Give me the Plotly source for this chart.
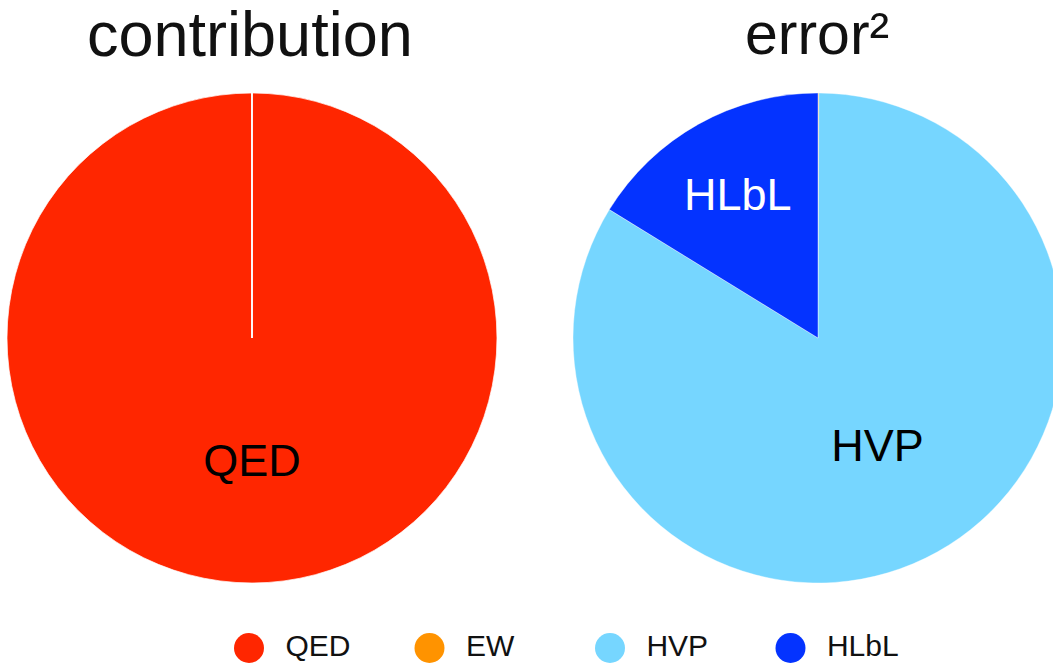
import plotly.graph_objects as go

# ---- data ----
labels = ["QED", "EW", "HVP", "HLbL"]
colors = ["#FF2600", "#FF9300", "#76D6FF", "#0433FF"]
contribution = [116584719, 154, 6845, 92]     # x 10^-11
error_sq = [0.01, 1.0, 1600, 310]             # (x 10^-11)^2
left_text = ["QED", "", "", ""]
right_text = ["", "", "HVP", "HLbL"]
left_text_colors = ["black", "black", "black", "white"]
right_text_colors = ["black", "black", "black", "white"]
titles = ["contribution", "error²"]
title_sizes = [63, 59]

FONT = "Liberation Sans, Arial, Helvetica, sans-serif"
W, H = 1063, 664   # right pie runs slightly past the 1053px window, as in the reference


def px(X):
    return X / W


def py(Y):
    return 1 - Y / H


fig = go.Figure()

fig.add_trace(go.Pie(
    labels=labels, values=contribution, text=left_text,
    textinfo="text", textposition="inside", insidetextorientation="horizontal",
    textfont=dict(size=45, family=FONT, color=left_text_colors),
    marker=dict(colors=colors, line=dict(color="white", width=0.7)),
    sort=False, direction="clockwise", rotation=0,
    domain=dict(x=[px(7), px(497)], y=[py(583), py(93)]),
    showlegend=False, hoverinfo="skip",
))

fig.add_trace(go.Pie(
    labels=labels, values=error_sq, text=right_text,
    textinfo="text", textposition="inside", insidetextorientation="horizontal",
    textfont=dict(size=45, family=FONT, color=right_text_colors),
    marker=dict(colors=colors, line=dict(color="white", width=0.4)),
    sort=False, direction="clockwise", rotation=0,
    domain=dict(x=[px(573), px(1063)], y=[py(583), py(93)]),
    showlegend=False, hoverinfo="skip",
))

# legend drawn as a row of markers with labels
fig.add_trace(go.Scatter(
    x=list(range(len(labels))), y=[0] * len(labels),
    mode="markers+text", text=["\u00a0\u00a0" + l for l in labels],
    textposition="middle right",
    textfont=dict(size=30, family=FONT, color="#111111"),
    marker=dict(size=30, color=colors, symbol="circle"),
    showlegend=False, hoverinfo="skip", cliponaxis=False,
))

step = 180.5
a = -249 / step
fig.update_xaxes(range=[a, a + W / step], domain=[0, 1], visible=False, fixedrange=True)
fig.update_yaxes(range=[-1, 1], domain=[0, 32 / H], visible=False, fixedrange=True)

for t, X, s in zip(titles, [250, 817], title_sizes):
    fig.add_annotation(
        text=t, x=px(X), y=py(34), xref="paper", yref="paper",
        xanchor="center", yanchor="middle", showarrow=False,
        font=dict(size=s, family=FONT, color="#111111"),
    )

fig.update_layout(
    width=W, height=H,
    margin=dict(l=0, r=0, t=0, b=0),
    paper_bgcolor="white", plot_bgcolor="white",
    font=dict(family=FONT),
)

fig.write_html(
    "out.html",
    config={"displayModeBar": False},
    post_script="document.body.style.margin='0';document.body.style.overflow='hidden';",
)
